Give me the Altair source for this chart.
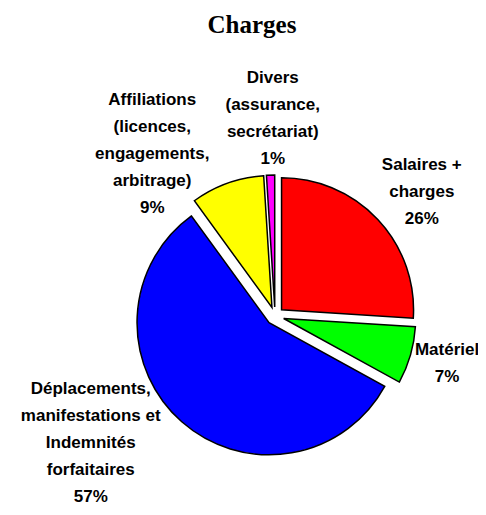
import altair as alt
import pandas as pd

# ---- data ----
categories = [
    "Salaires + charges",
    "Matériel",
    "Déplacements, manifestations et Indemnités forfaitaires",
    "Affiliations (licences, engagements, arbitrage)",
    "Divers (assurance, secrétariat)",
]
label_lines = [
    ["Salaires +", "charges"],
    ["Matériel"],
    ["Déplacements,", "manifestations et", "Indemnités", "forfaitaires"],
    ["Affiliations", "(licences,", "engagements,", "arbitrage)"],
    ["Divers", "(assurance,", "secrétariat)"],
]
shares = [26, 7, 57, 9, 1]
colors = ["#FF0000", "#00FF00", "#0000FF", "#FFFF00", "#FF00FF"]

# ---- layout (pixels) ----
W, H = 470, 499
CX, CY = 267, 308
RADIUS = 132
EXPLODE = 9
LABEL_R = 200
LINE_H = 27
label_nudge_x = [1, -20, -52, -55, 4]
label_nudge_y = [13, -8, -23, 26, 2]

df = pd.DataFrame({
    "category": categories,
    "share": shares,
    "order": list(range(len(shares))),
    "label": ["\n".join(l + [f"{s}%"]) for l, s in zip(label_lines, shares)],
    "nlines": [len(l) + 1 for l in label_lines],
    "nx": label_nudge_x,
    "ny": label_nudge_y,
})

base = (
    alt.Chart(df)
    .transform_window(cum="sum(share)", sort=[alt.SortField("order")], frame=[None, 0])
    .transform_joinaggregate(total="sum(share)")
    .transform_calculate(
        t0="2*PI*(datum.cum - datum.share)/datum.total",
        t1="2*PI*datum.cum/datum.total",
    )
    .transform_calculate(tm="(datum.t0 + datum.t1)/2")
    .transform_calculate(
        cx=f"{CX} + {EXPLODE}*sin(datum.tm)",
        cy=f"{CY} - {EXPLODE}*cos(datum.tm)",
        lx=f"{CX} + {LABEL_R}*sin(datum.tm) + datum.nx",
        ly=f"{CY} - {LABEL_R}*cos(datum.tm) + datum.ny - (datum.nlines - 1)*{LINE_H}/2",
    )
)

arcs = base.mark_arc(stroke="black", strokeWidth=1.5, radius=RADIUS).encode(
    theta=alt.Theta("t0:Q", scale=None, stack=None),
    theta2="t1:Q",
    x=alt.X("cx:Q", scale=None, axis=None),
    y=alt.Y("cy:Q", scale=None, axis=None),
    color=alt.Color("category:N", scale=alt.Scale(domain=categories, range=colors), legend=None),
)

labels = base.mark_text(
    font="Liberation Sans", fontSize=17, fontWeight="bold", lineBreak="\n",
    lineHeight=LINE_H, align="center", baseline="middle", color="black",
).encode(
    x=alt.X("lx:Q", scale=None, axis=None),
    y=alt.Y("ly:Q", scale=None, axis=None),
    text="label:N",
)

chart = (
    alt.layer(arcs, labels)
    .properties(
        width=W, height=H, autosize="none", padding=0,
        title=alt.Title(
            "Charges", font="Liberation Serif", fontSize=25, fontWeight="bold",
            anchor="middle", frame="group", offset=0, baseline="alphabetic",
            dy=50, dx=9, color="black",
        ),
    )
    .configure_view(stroke=None)
)

chart.save("out.html", embed_options={"renderer": "svg", "actions": False})
